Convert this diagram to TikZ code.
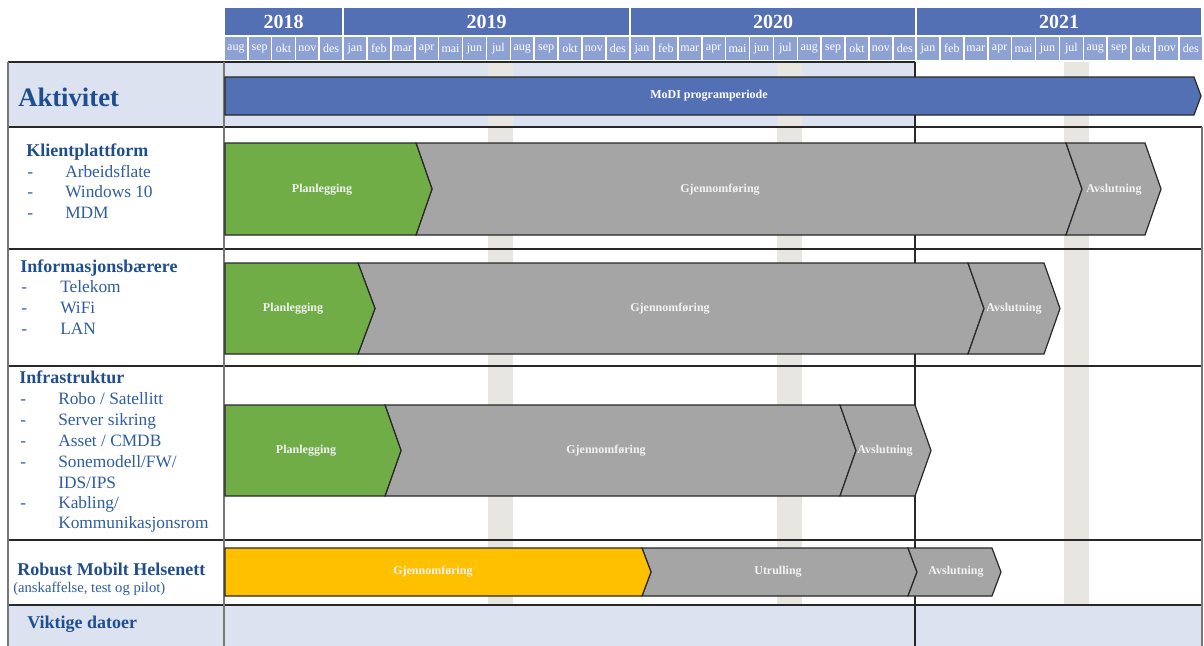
\documentclass[tikz,border=0pt]{standalone}
\usepackage{fontspec}
\setmainfont{Liberation Serif}
\definecolor{yearblue}{RGB}{84,112,180}
\definecolor{monthblue}{RGB}{142,161,211}
\definecolor{paleblue}{RGB}{220,226,240}
\definecolor{stripegray}{RGB}{231,230,224}
\definecolor{bargreen}{RGB}{112,173,71}
\definecolor{bargray}{RGB}{165,165,165}
\definecolor{baryellow}{RGB}{255,192,0}
\definecolor{headblue}{RGB}{31,78,143}
\definecolor{itemblue}{RGB}{46,92,162}
\definecolor{labelwhite}{RGB}{242,242,242}
\definecolor{edgedark}{RGB}{40,40,40}
\definecolor{gridgray}{RGB}{120,120,120}
\tikzset{
  yearcell/.style={fill=yearblue,draw=white,line width=1.2pt},
  monthcell/.style={fill=monthblue,draw=white,line width=1.2pt},
  yeartext/.style={text=white,font=\bfseries\fontsize{15}{16}\selectfont},
  monthtext/.style={text=white,font=\fontsize{9}{10}\selectfont},
  rowline/.style={draw=edgedark,line width=0.8pt},
  gridline/.style={draw=gridgray,line width=0.8pt},
  barshape/.style={draw=edgedark,line width=0.9pt,line join=miter},
  barlabel/.style={text=labelwhite,font=\bfseries\fontsize{9}{10}\selectfont},
  headtext/.style={anchor=base west,inner sep=0pt,text=headblue,font=\bfseries\fontsize{13.5}{15}\selectfont},
  itemtext/.style={anchor=base west,inner sep=0pt,text=itemblue,font=\fontsize{13}{15}\selectfont},
}
\begin{document}
\begin{tikzpicture}[x=0.75pt,y=-0.75pt]
\useasboundingbox (0,0) rectangle (1204,646);
% header
\foreach \xa/\xb/\yr in {224/343/2018,343/630/2019,630/916/2020,916/1202/2021}{
  \draw[yearcell] (\xa,7) rectangle (\xb,36);
  \node[yeartext] (y\yr) at ({(\xa+\xb)/2},21.5) {\yr};
}
\foreach \m [count=\i from 0] in {aug,sep,okt,nov,des}{
  \pgfmathsetmacro{\mx}{224+\i*23.8}
  \draw[monthcell] (\mx,36) rectangle ++(23.8,25);
  \node[monthtext] (m2018\i) at (\mx+11.9,48.5) {\m};
}
\foreach \xa/\yr in {343/2019,630/2020,916/2021}{
  \foreach \m [count=\i from 0] in {jan,feb,mar,apr,mai,jun,jul,aug,sep,okt,nov,des}{
    \pgfmathsetmacro{\mx}{\xa+\i*23.9}
    \draw[monthcell] (\mx,36) rectangle ++(23.9,25);
    \node[monthtext] (m\yr\i) at (\mx+11.95,48.5) {\m};
  }
}
% pale fills
\fill[paleblue] (8,62) rectangle (915,127);
\fill[paleblue] (8,605) rectangle (1202,646);
% july stripes
\foreach \sx in {488,777,1064}{
  \fill[stripegray] (\sx,62) rectangle ++(25,543);
}
% grid lines
\draw[rowline] (8,62) -- (915,62);
\foreach \yy in {127,249,366,540,605}{
  \draw[rowline] (8,\yy) -- (1202,\yy);
}
\draw[gridline] (8,62) -- (8,646);
\draw[gridline] (224,62) -- (224,646);
\draw[rowline] (915,62) -- (915,646);
\draw[gridline] (1202,127) -- (1202,646);
% Aktivitet bar
\draw[barshape,fill=yearblue] (225,77) -- (1194,77) -- (1201,96) -- (1194,115) -- (225,115) -- cycle;
\node[text=white,font=\bfseries\fontsize{9}{10}\selectfont] (modi) at (709,96) {MoDI programperiode};
% row 1: Klientplattform
\draw[barshape,fill=bargray] (416,143) -- (1066,143) -- (1082,189) -- (1066,235) -- (416,235) -- (432,189) -- cycle;
\draw[barshape,fill=bargray] (1066,143) -- (1145,143) -- (1161,189) -- (1145,235) -- (1066,235) -- (1082,189) -- cycle;
\draw[barshape,fill=bargreen] (225,143) -- (416,143) -- (432,189) -- (416,235) -- (225,235) -- cycle;
\node[barlabel] (p1) at (322,190) {Planlegging};
\node[barlabel] (g1) at (720,190) {Gjennomføring};
\node[barlabel] (a1) at (1114,190) {Avslutning};
% row 2: Informasjonsbaerere
\draw[barshape,fill=bargray] (358,263) -- (968,263) -- (984,308.5) -- (968,354) -- (358,354) -- (375,308.5) -- cycle;
\draw[barshape,fill=bargray] (968,263) -- (1044,263) -- (1060,308.5) -- (1044,354) -- (968,354) -- (984,308.5) -- cycle;
\draw[barshape,fill=bargreen] (225,263) -- (358,263) -- (375,308.5) -- (358,354) -- (225,354) -- cycle;
\node[barlabel] (p2) at (293,309) {Planlegging};
\node[barlabel] (g2) at (670,309) {Gjennomføring};
\node[barlabel] (a2) at (1014,309) {Avslutning};
% row 3: Infrastruktur
\draw[barshape,fill=bargray] (385,405) -- (840,405) -- (856,450.5) -- (840,496) -- (385,496) -- (401,450.5) -- cycle;
\draw[barshape,fill=bargray] (840,405) -- (915,405) -- (931,450.5) -- (915,496) -- (840,496) -- (856,450.5) -- cycle;
\draw[barshape,fill=bargreen] (225,405) -- (385,405) -- (401,450.5) -- (385,496) -- (225,496) -- cycle;
\node[barlabel] (p3) at (306,451) {Planlegging};
\node[barlabel] (g3) at (606,451) {Gjennomføring};
\node[barlabel] (a3) at (885,451) {Avslutning};
% row 4: Robust Mobilt Helsenett
\draw[barshape,fill=bargray] (642,548) -- (908,548) -- (917,572) -- (908,596) -- (642,596) -- (651,572) -- cycle;
\draw[barshape,fill=bargray] (908,548) -- (992,548) -- (1001,572) -- (992,596) -- (908,596) -- (917,572) -- cycle;
\draw[barshape,fill=baryellow] (225,548) -- (642,548) -- (651,572) -- (642,596) -- (225,596) -- cycle;
\node[barlabel] (g4) at (433,572) {Gjennomføring};
\node[barlabel] (u4) at (778,572) {Utrulling};
\node[barlabel] (a4) at (956,572) {Avslutning};
% left labels
\node[anchor=base west,inner sep=0pt,text=headblue,font=\bfseries\fontsize{20}{22}\selectfont] (akt) at (18,106) {Aktivitet};
\node[headtext] (kp) at (26,156) {Klientplattform};
\node[itemtext] (kpd0) at (27,177) {-};
\node[itemtext] (kpi0) at (65,177) {Arbeidsflate};
\node[itemtext] (kpd1) at (27,197.5) {-};
\node[itemtext] (kpi1) at (65,197.5) {Windows 10};
\node[itemtext] (kpd2) at (27,218) {-};
\node[itemtext] (kpi2) at (65,218) {MDM};
\node[headtext] (ib) at (20,272) {Informasjonsbærere};
\node[itemtext] (ibd0) at (21,292) {-};
\node[itemtext] (ibi0) at (60,292) {Telekom};
\node[itemtext] (ibd1) at (21,313) {-};
\node[itemtext] (ibi1) at (60,313) {WiFi};
\node[itemtext] (ibd2) at (21,334) {-};
\node[itemtext] (ibi2) at (60,334) {LAN};
\node[headtext] (inf) at (19,383) {Infrastruktur};
\node[itemtext] (infd0) at (20,404) {-};
\node[itemtext] (infi0) at (58,404) {Robo / Satellitt};
\node[itemtext] (infd1) at (20,425) {-};
\node[itemtext] (infi1) at (58,425) {Server sikring};
\node[itemtext] (infd2) at (20,446) {-};
\node[itemtext] (infi2) at (58,446) {Asset / CMDB};
\node[itemtext] (infd3) at (20,467) {-};
\node[itemtext] (infi3) at (58,467) {Sonemodell/FW/};
\node[itemtext] (infi4) at (58,488) {IDS/IPS};
\node[itemtext] (infd5) at (20,508) {-};
\node[itemtext] (infi5) at (58,508) {Kabling/};
\node[itemtext] (infi6) at (58,528) {Kommunikasjonsrom};
\node[headtext] (rmh) at (17,575) {Robust Mobilt Helsenett};
\node[anchor=base west,inner sep=0pt,text=itemblue,font=\fontsize{11}{12}\selectfont] (rmhs) at (13,592) {(anskaffelse, test og pilot)};
\node[headtext] (vd) at (27,628) {Viktige datoer};
\end{tikzpicture}
\end{document}
